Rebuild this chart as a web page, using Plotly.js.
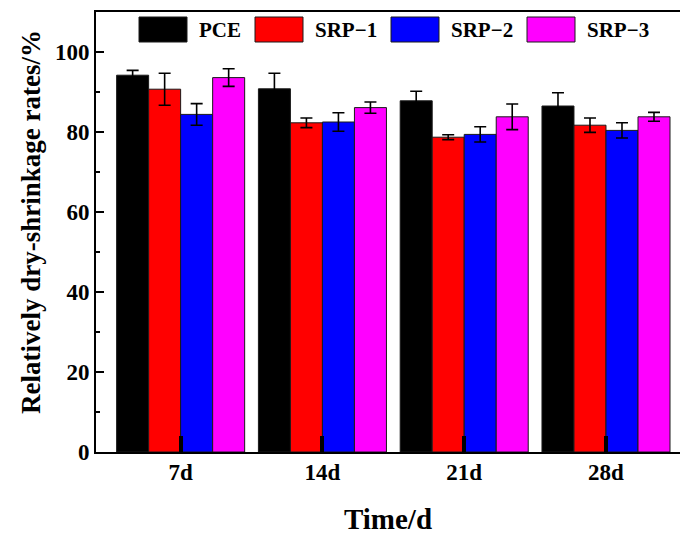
<!DOCTYPE html>
<html>
<head>
<meta charset="utf-8">
<script src="https://cdn.plot.ly/plotly-3.0.1.min.js"></script>
<style>
  html, body { margin: 0; padding: 0; background: #ffffff; overflow: hidden; }
  #chart { width: 680px; height: 536px; }
</style>
</head>
<body>
<div id="chart"></div>
<script>
// ---- data ----
const categories = ['7d', '14d', '21d', '28d'];
const seriesNames = ['PCE', 'SRP\u22121', 'SRP\u22122', 'SRP\u22123'];
const pceValues  = [94.2, 90.8, 87.8, 86.5];
const pceErrors  = [1.2, 3.9, 2.4, 3.3];
const srp1Values = [90.7, 82.3, 78.7, 81.7];
const srp1Errors = [4.0, 1.2, 0.6, 1.8];
const srp2Values = [84.4, 82.5, 79.4, 80.4];
const srp2Errors = [2.7, 2.3, 1.9, 1.9];
const srp3Values = [93.6, 86.1, 83.8, 83.8];
const srp3Errors = [2.2, 1.4, 3.2, 1.1];
const yTickValues = [0, 20, 40, 60, 80, 100];

const colors = ['#000000', '#ff0000', '#0000ff', '#ff00ff'];
const FONT = 'Liberation Serif, Times New Roman, serif';

const values = [pceValues, srp1Values, srp2Values, srp3Values];
const errors = [pceErrors, srp1Errors, srp2Errors, srp3Errors];

const traces = seriesNames.map((name, i) => ({
  type: 'bar',
  name: name,
  x: categories,
  y: values[i],
  marker: { color: colors[i], line: { color: '#1a1a1a', width: 1 } },
  error_y: { type: 'data', array: errors[i], visible: true, color: '#000000', thickness: 1.6, width: 6 },
  showlegend: false
}));

// plot-area geometry (pixels) used for the hand-drawn legend and y title
const W = 680, H = 536;
const M = { l: 96, r: 0, t: 12, b: 84 };
const pw = W - M.l - M.r, ph = H - M.t - M.b;
const px = v => (v - M.l) / pw;
const py = v => (H - M.b - v) / ph;

const legendBoxX = [139, 255, 391, 527];
const boxW = 48, boxTop = 17, boxBottom = 42;
const shapes = [];
const annotations = [];
seriesNames.forEach((name, i) => {
  shapes.push({
    type: 'rect', xref: 'paper', yref: 'paper',
    x0: px(legendBoxX[i]), x1: px(legendBoxX[i] + boxW),
    y0: py(boxBottom), y1: py(boxTop),
    fillcolor: colors[i], line: { color: '#1a1a1a', width: 1 }
  });
  annotations.push({
    xref: 'paper', yref: 'paper',
    x: px(legendBoxX[i] + boxW + 10), y: py((boxTop + boxBottom) / 2),
    xanchor: 'left', yanchor: 'middle', showarrow: false,
    text: name,
    font: { family: FONT, size: 21, color: '#000000', weight: 700 }
  });
});

// y-axis title
annotations.push({
  xref: 'paper', yref: 'paper',
  x: px(31), y: py(222),
  xanchor: 'center', yanchor: 'middle', showarrow: false,
  textangle: -90,
  text: 'Relatively dry-shrinkage rates/%',
  font: { family: FONT, size: 27, color: '#000000', weight: 700 }
});

const layout = {
  width: W, height: H,
  margin: M,
  paper_bgcolor: '#ffffff',
  plot_bgcolor: '#ffffff',
  barmode: 'group',
  bargap: 0.097,
  bargroupgap: 0,
  showlegend: false,
  font: { family: FONT, color: '#000000' },
  xaxis: {
    type: 'category',
    range: [-0.597, 3.522],
    showgrid: false,
    zeroline: false,
    showline: true, linecolor: '#000000', linewidth: 2,
    mirror: true,
    ticks: 'inside', ticklen: 16, tickwidth: 4, tickcolor: '#000000',
    tickfont: { family: FONT, size: 23, color: '#000000', weight: 700 },
    ticklabelstandoff: -2,
    title: { text: 'Time/d', font: { family: FONT, size: 29, color: '#000000', weight: 700 }, standoff: 25 },
    automargin: false,
    layer: 'above traces'
  },
  yaxis: {
    range: [0, 110],
    tickvals: yTickValues,
    ticksuffix: ' ',
    showgrid: false,
    zeroline: false,
    showline: true, linecolor: '#000000', linewidth: 2,
    mirror: false,
    ticks: 'inside', ticklen: 8, tickwidth: 1.5, tickcolor: '#000000',
    minor: { dtick: 10, tick0: 10, ticks: 'inside', ticklen: 4, tickwidth: 1.5, tickcolor: '#000000', showgrid: false },
    tickfont: { family: FONT, size: 23, color: '#000000', weight: 700 },
    automargin: false,
    layer: 'above traces'
  },
  shapes: shapes,
  annotations: annotations
};

Plotly.newPlot('chart', traces, layout, { displayModeBar: false, staticPlot: true });
</script>
</body>
</html>
